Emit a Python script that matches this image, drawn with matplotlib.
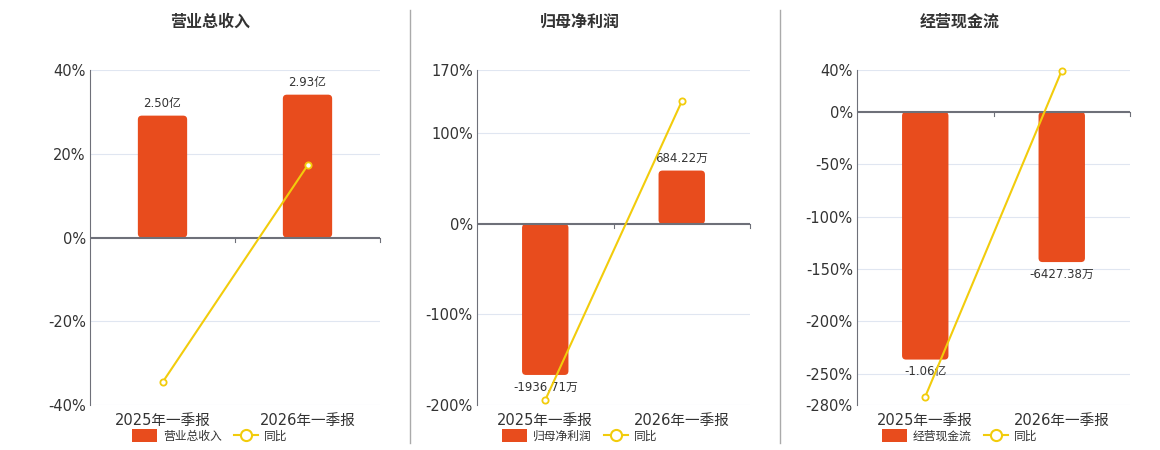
import numpy as np
import matplotlib
matplotlib.use('Agg')
import matplotlib.pyplot as plt
from matplotlib.patches import Patch, FancyBboxPatch
from matplotlib.lines import Line2D

plt.rcParams['font.family'] = ['DejaVu Sans', 'Noto Sans CJK SC']

# data
periods = ['2025年一季报', '2026年一季报']
titles = ['营业总收入', '归母净利润', '经营现金流']
# bar values in 万元
revenue = [25000, 29300]
profit = [-1936.71, 684.22]
cashflow = [-10600, -6427.38]
revenue_labels = ['2.50亿', '2.93亿']
profit_labels = ['-1936.71万', '684.22万']
cashflow_labels = ['-1.06亿', '-6427.38万']
# yoy growth in %
revenue_yoy = [-34.6, 17.2]
profit_yoy = [-194.5, 135.3]
cashflow_yoy = [-272.0, 39.4]

# y axis settings (percent axis)
pct_ticks = [[-40, -20, 0, 20, 40],
             [-200, -100, 0, 100, 170],
             [-280, -250, -200, -150, -100, -50, 0, 40]]
# 万 per percent, so bars line up with the percent axis
bar_scale = [859, 11.61, 44.8]

bar_vals = [revenue, profit, cashflow]
bar_labels = [revenue_labels, profit_labels, cashflow_labels]
yoy_vals = [revenue_yoy, profit_yoy, cashflow_yoy]

bar_color = '#e84c1d'
line_color = '#f2cc0c'
axis_color = '#6e7079'
grid_color = '#e0e6f1'
text_color = '#333333'

fig = plt.figure(figsize=(11.6, 4.5), dpi=100)

lefts = [90, 477, 857]
widths = [290, 273, 273]
centers = [210, 580, 960]
axh = 335

for i in range(3):
    ax = fig.add_axes([lefts[i] / 1160, 0.1, widths[i] / 1160, axh / 450])
    lo, hi = pct_ticks[i][0], pct_ticks[i][-1]
    ax.set_ylim(lo, hi)
    ax.set_xlim(-0.5, 1.5)
    ax.set_yticks(pct_ticks[i])
    ax.set_yticklabels([f'{t}%' for t in pct_ticks[i]])
    for t in pct_ticks[i]:
        if t != 0:
            ax.axhline(t, color=grid_color, lw=0.8, zorder=0)
    for s in ['top', 'right', 'bottom']:
        ax.spines[s].set_visible(False)
    ax.spines['left'].set_color(axis_color)
    ax.tick_params(axis='y', length=0, labelsize=10.5, colors=text_color, pad=3)
    ax.tick_params(axis='x', length=0, labelsize=10.5, colors=text_color, pad=6)
    ax.set_xticks([0, 1])
    ax.set_xticklabels(periods)

    # bars on a twin axis in 万
    bx = ax.twinx()
    ylo, yhi = lo * bar_scale[i], hi * bar_scale[i]
    bx.set_ylim(ylo, yhi)
    bx.set_xlim(-0.5, 1.5)
    bx.axis('off')
    x = np.arange(len(periods))
    bars = bx.bar(x, bar_vals[i], width=0.34, color=bar_color, zorder=2)
    # rounded corners: swap each rectangle for a rounded box of the same size
    px_x = 2.0 / widths[i]
    px_y = (yhi - ylo) / axh
    for b in bars:
        b.set_visible(False)
        y0 = min(b.get_y(), b.get_y() + b.get_height())
        rb = FancyBboxPatch((b.get_x(), y0), b.get_width(), abs(b.get_height()),
                            boxstyle=f'round,pad=0,rounding_size={4 * px_x}',
                            mutation_aspect=px_y / px_x,
                            facecolor=bar_color, edgecolor='none', zorder=2)
        bx.add_patch(rb)
    for b, v, lab in zip(bars, bar_vals[i], bar_labels[i]):
        off = 4 if v >= 0 else -4
        bx.annotate(lab, (b.get_x() + b.get_width() / 2, v), xytext=(0, off),
                    textcoords='offset points', ha='center',
                    va='bottom' if v >= 0 else 'top', fontsize=8.5, color=text_color, zorder=5)
    # zero axis line with category ticks
    bx.axhline(0, color=axis_color, lw=1.5, zorder=3)
    for xt in [0.5, 1.5]:
        bx.plot([xt, xt], [0, -4 * px_y], color=axis_color, lw=0.8, zorder=3, clip_on=False)

    # yoy line on top
    lx = ax.twinx()
    lx.set_ylim(lo, hi)
    lx.set_xlim(-0.5, 1.5)
    lx.axis('off')
    lx.plot(x, yoy_vals[i], color=line_color, lw=1.5, marker='o', markersize=4.5,
            markerfacecolor='white', markeredgecolor=line_color, markeredgewidth=1.3,
            zorder=4, clip_on=False)

    fig.text(centers[i] / 1160, 1 - 22 / 450, titles[i], ha='center', va='center',
             fontsize=11.5, fontweight='bold', color=text_color)

    handles = [Patch(facecolor=bar_color, edgecolor='none'),
               Line2D([0], [0], color=line_color, lw=1.5, marker='o', markersize=8,
                      markerfacecolor='white', markeredgecolor=line_color, markeredgewidth=1.5)]
    fig.legend(handles, [titles[i], '同比'], loc='center', ncol=2,
               bbox_to_anchor=(centers[i] / 1160, 1 - 436 / 450), frameon=False,
               fontsize=8.5, handlelength=2.1, handleheight=1.2, columnspacing=1.0,
               handletextpad=0.5, labelcolor=text_color, borderpad=0)

# separators
for xs in [410, 780]:
    fig.add_artist(Line2D([xs / 1160, xs / 1160], [1 - 443 / 450, 1 - 10 / 450],
                          color='#aaaaaa', lw=1))

fig.savefig('out.png', dpi=100)
